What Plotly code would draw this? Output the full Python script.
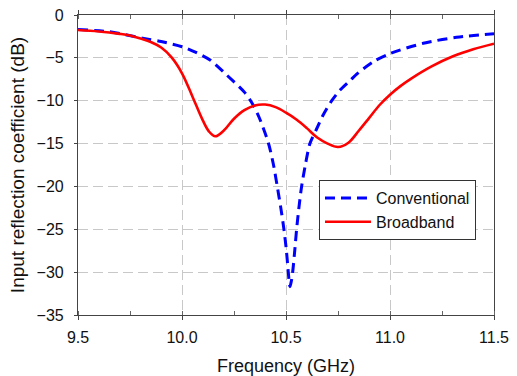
import plotly.graph_objects as go

conv_f = [9.5, 9.65, 9.81, 9.9, 10.0, 10.07, 10.135, 10.215, 10.3, 10.335, 10.37, 10.415, 10.44,
          10.458, 10.475, 10.49, 10.502, 10.511, 10.519, 10.526, 10.532, 10.542, 10.551, 10.562,
          10.575, 10.593, 10.615, 10.647, 10.68, 10.72, 10.76, 10.81, 10.84, 10.92, 11.0, 11.16,
          11.32, 11.5]
conv_db = [-1.7, -1.95, -2.7, -3.1, -3.7, -4.4, -5.25, -7.0, -9.0, -10.2, -11.9, -14.9, -17.5,
           -20.0, -22.5, -25.0, -27.5, -30.0, -31.7, -31.0, -30.0, -27.5, -25.0, -22.5,
           -20.0, -17.5, -15.0, -13.3, -11.6, -10.0, -8.75, -7.6, -6.9, -5.45, -4.5, -3.3,
           -2.6, -2.2]

broad_f = [9.5, 9.6, 9.7, 9.75, 9.8, 9.85, 9.9, 9.95, 10.0, 10.05, 10.1, 10.13, 10.16, 10.2, 10.25,
           10.3, 10.35, 10.4, 10.45, 10.5, 10.55, 10.6, 10.65, 10.7, 10.75, 10.8, 10.85, 10.9, 10.95,
           11.0, 11.05, 11.1, 11.2, 11.3, 11.4, 11.5]
broad_db = [-1.75, -1.92, -2.2, -2.4, -2.75, -3.15, -3.8, -4.95, -6.8, -9.5, -12.3, -13.6, -14.15, -13.5, -12.1,
            -11.1, -10.55, -10.45, -10.75, -11.4, -12.2, -13.2, -14.3, -15.0, -15.4, -14.9, -13.5, -12.0, -10.5,
            -9.3, -8.3, -7.45, -6.0, -4.85, -4.0, -3.35]

x_ticks = [9.5, 10.0, 10.5, 11.0, 11.5]
x_ticklabels = ["9.5", "10.0", "10.5", "11.0", "11.5"]
y_ticks = [0, -5, -10, -15, -20, -25, -30, -35]

fig = go.Figure()
fig.add_trace(go.Scatter(x=conv_f, y=conv_db, mode="lines", name="Conventional",
                         line=dict(color="#0000ff", width=3, dash="10px,6px", shape="spline", smoothing=0.8)))
fig.add_trace(go.Scatter(x=broad_f, y=broad_db, mode="lines", name="Broadband",
                         line=dict(color="#ff0000", width=2.6, shape="spline", smoothing=1.0)))

font = "Liberation Sans, Arial, sans-serif"
fig.update_layout(
    width=517, height=376,
    margin=dict(l=78, r=23, t=15, b=61),
    plot_bgcolor="white", paper_bgcolor="white",
    font=dict(family=font, size=16, color="#111"),
    showlegend=True,
    legend=dict(x=0.5793, y=0.45, xanchor="left", yanchor="top",
                bordercolor="#333", borderwidth=1, bgcolor="white",
                font=dict(family=font, size=16, color="#111"),
                tracegroupgap=0, itemwidth=46),
    xaxis=dict(range=[9.5, 11.5], tickvals=x_ticks, ticktext=x_ticklabels, automargin=False,
               showline=True, linecolor="#444", linewidth=1.2, mirror="allticks",
               ticks="outside", ticklen=4, tickcolor="#444", ticklabelstandoff=4,
               showgrid=True, gridcolor="#c8c8c8", griddash="10px,5px", gridwidth=1,
               minor=dict(dtick=0.25, tick0=9.5, ticks="inside", ticklen=4, tickcolor="#666", showgrid=False),
               zeroline=False,
               title=dict(text="Frequency (GHz)", font=dict(size=18), standoff=15)),
    yaxis=dict(range=[-35, 0], tickvals=y_ticks, automargin=False,
               showline=True, linecolor="#444", linewidth=1.2, mirror=True,
               ticks="outside", ticklen=3, tickcolor="#444", ticklabelstandoff=7,
               showgrid=True, gridcolor="#c8c8c8", griddash="10px,5px", gridwidth=1,
               zeroline=False,
               title=dict(text="Input reflection coefficient (dB)", font=dict(size=19), standoff=6)),
)

fig.write_html("out.html")
